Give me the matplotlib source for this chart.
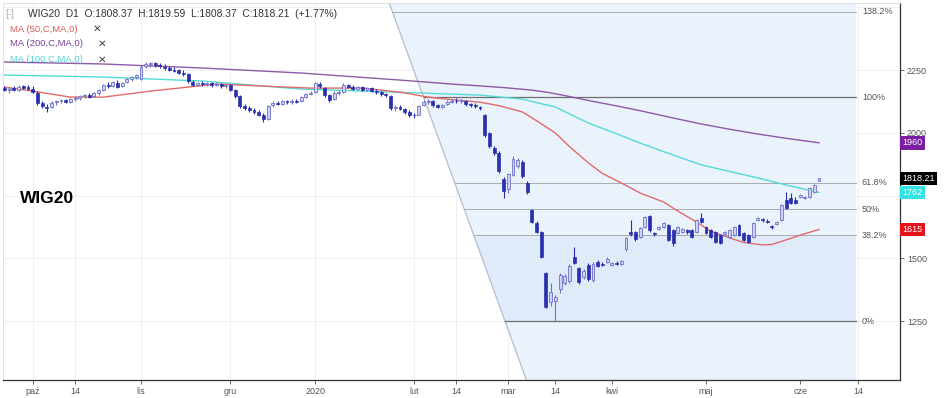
import numpy as np
import pandas as pd
import matplotlib
matplotlib.use('Agg')
import matplotlib.pyplot as plt
from matplotlib.patches import Polygon
import matplotlib.transforms as mtransforms

plt.rcParams['font.family'] = ['Liberation Sans', 'DejaVu Sans']

# ---------------- data ----------------
holidays = ['2019-11-01', '2019-11-11', '2019-12-24', '2019-12-25', '2019-12-26',
            '2019-12-31', '2020-01-01', '2020-01-06', '2020-04-10', '2020-04-13',
            '2020-05-01']
dates = [d for d in pd.bdate_range('2019-09-23', '2020-06-05')
         if d.strftime('%Y-%m-%d') not in holidays]

opens = [2180, 2170, 2178, 2172, 2186, 2182, 2176, 2160, 2118, 2104, 2102, 2122, 2126, 2130, 2124,
         2136, 2140, 2146, 2150, 2146, 2158, 2170, 2192, 2186, 2200, 2186, 2202, 2216, 2222, 2215,
         2266, 2272, 2276, 2270, 2264, 2258, 2252, 2250, 2240, 2236, 2204, 2192, 2200, 2194, 2198,
         2190, 2196, 2186, 2190, 2170, 2146, 2108, 2098, 2092, 2082, 2072, 2056, 2110, 2120, 2116,
         2126, 2122, 2128, 2126, 2144, 2154, 2164, 2196, 2180, 2150, 2134, 2160, 2164, 2190, 2184,
         2176, 2182, 2172, 2178, 2168, 2162, 2156, 2146, 2098, 2104, 2096, 2084, 2072, 2072, 2110,
         2124, 2126, 2110, 2104, 2114, 2124, 2128, 2126, 2128, 2114, 2112, 2104, 2072, 1998, 1940,
         1920, 1816, 1776, 1830, 1868, 1884, 1800, 1692, 1640, 1604, 1440, 1326, 1330, 1376, 1400,
         1408, 1504, 1462, 1424, 1474, 1412, 1486, 1476, 1486, 1474, 1480, 1478, 1536, 1605, 1605,
         1585, 1625, 1670, 1600, 1618, 1625, 1632, 1612, 1600, 1605, 1612, 1612, 1605, 1660, 1624,
         1612, 1605, 1593, 1598, 1585, 1593, 1632, 1601, 1593, 1585, 1652, 1656, 1650, 1628, 1636,
         1652, 1732, 1740, 1732, 1744, 1740, 1744, 1764, 1808.37]
highs = [2188, 2182, 2185, 2190, 2192, 2190, 2185, 2166, 2125, 2115, 2125, 2130, 2134, 2136, 2140,
         2145, 2150, 2156, 2160, 2162, 2176, 2195, 2202, 2206, 2210, 2204, 2220, 2228, 2236, 2268,
         2280, 2282, 2280, 2276, 2272, 2266, 2262, 2256, 2250, 2240, 2210, 2204, 2206, 2204, 2204,
         2202, 2200, 2196, 2196, 2174, 2150, 2115, 2106, 2100, 2090, 2078, 2112, 2126, 2128, 2130,
         2132, 2134, 2136, 2148, 2160, 2166, 2202, 2204, 2184, 2156, 2166, 2172, 2198, 2196, 2192,
         2188, 2186, 2182, 2184, 2176, 2168, 2160, 2150, 2110, 2110, 2100, 2090, 2080, 2112, 2130,
         2134, 2130, 2114, 2116, 2130, 2134, 2138, 2136, 2130, 2120, 2118, 2108, 2076, 2004, 1946,
         1926, 1822, 1840, 1906, 1900, 1890, 1806, 1698, 1648, 1608, 1444, 1400, 1352, 1440, 1436,
         1476, 1546, 1466, 1458, 1480, 1484, 1492, 1486, 1504, 1484, 1490, 1494, 1584, 1652, 1610,
         1624, 1670, 1674, 1606, 1630, 1645, 1636, 1616, 1628, 1620, 1618, 1616, 1656, 1682, 1628,
         1616, 1610, 1598, 1610, 1616, 1628, 1636, 1606, 1598, 1644, 1664, 1662, 1656, 1632, 1648,
         1716, 1764, 1760, 1745, 1756, 1750, 1784, 1794, 1819.59]
lows = [2165, 2160, 2168, 2168, 2175, 2172, 2160, 2112, 2098, 2082, 2098, 2112, 2118, 2120, 2120,
        2128, 2132, 2140, 2140, 2142, 2152, 2168, 2180, 2184, 2180, 2182, 2198, 2208, 2215, 2212,
        2260, 2264, 2262, 2260, 2252, 2246, 2242, 2236, 2228, 2200, 2186, 2186, 2188, 2186, 2184,
        2186, 2180, 2178, 2168, 2140, 2100, 2090, 2084, 2076, 2066, 2044, 2052, 2104, 2110, 2112,
        2114, 2116, 2120, 2124, 2140, 2150, 2160, 2180, 2144, 2122, 2130, 2152, 2160, 2178, 2170,
        2170, 2168, 2166, 2164, 2156, 2148, 2142, 2092, 2088, 2090, 2074, 2064, 2060, 2070, 2106,
        2116, 2104, 2098, 2100, 2112, 2118, 2120, 2120, 2108, 2104, 2100, 2092, 1984, 1940, 1910,
        1840, 1740, 1760, 1826, 1860, 1820, 1756, 1640, 1600, 1500, 1300, 1310, 1250, 1362, 1392,
        1400, 1476, 1398, 1418, 1410, 1406, 1464, 1468, 1482, 1468, 1472, 1474, 1530, 1588, 1570,
        1580, 1620, 1606, 1588, 1612, 1620, 1568, 1550, 1596, 1600, 1598, 1580, 1600, 1640, 1596,
        1580, 1560, 1556, 1594, 1580, 1588, 1588, 1568, 1560, 1580, 1648, 1646, 1640, 1618, 1632,
        1648, 1696, 1716, 1716, 1740, 1736, 1740, 1760, 1808.37]
closes = [2170, 2175, 2172, 2184, 2180, 2176, 2164, 2118, 2105, 2100, 2120, 2125, 2130, 2124, 2136,
          2140, 2146, 2150, 2144, 2158, 2172, 2190, 2186, 2202, 2184, 2200, 2215, 2222, 2230, 2262,
          2272, 2276, 2268, 2265, 2258, 2252, 2248, 2240, 2236, 2206, 2192, 2200, 2194, 2198, 2190,
          2196, 2186, 2190, 2172, 2146, 2108, 2098, 2090, 2082, 2072, 2056, 2108, 2120, 2116, 2126,
          2122, 2128, 2124, 2144, 2156, 2160, 2198, 2186, 2150, 2132, 2158, 2164, 2192, 2184, 2176,
          2182, 2172, 2178, 2168, 2162, 2154, 2150, 2098, 2104, 2096, 2082, 2072, 2070, 2108, 2124,
          2128, 2110, 2104, 2112, 2124, 2128, 2126, 2130, 2114, 2110, 2106, 2098, 1990, 1946, 1920,
          1846, 1768, 1834, 1896, 1890, 1826, 1764, 1646, 1606, 1506, 1306, 1364, 1346, 1432, 1428,
          1468, 1482, 1404, 1450, 1416, 1478, 1470, 1474, 1498, 1480, 1476, 1488, 1580, 1595, 1575,
          1620, 1665, 1612, 1595, 1625, 1640, 1573, 1561, 1624, 1615, 1605, 1585, 1652, 1645, 1601,
          1585, 1565, 1561, 1605, 1612, 1624, 1593, 1573, 1565, 1640, 1660, 1652, 1645, 1624, 1644,
          1712, 1700, 1720, 1720, 1752, 1745, 1780, 1790, 1818.21]

# moving averages (trading-day index, value)
ma50_idx = [0, 6, 14, 21, 31, 45, 55, 65, 76, 84, 90, 96, 101, 105, 110, 113, 117, 120, 124, 127,
            131, 135, 140, 143, 147, 150, 154, 157, 161, 163, 166, 169, 173]
ma50_val = [2182, 2166, 2142, 2142, 2166, 2194, 2186, 2178, 2178, 2162, 2142, 2130, 2122, 2108, 2083,
            2048, 1999, 1945, 1880, 1838, 1800, 1760, 1724, 1688, 1644, 1608, 1581, 1563, 1553, 1555,
            1573, 1592, 1615]
ma100_idx = [0, 21, 42, 63, 89, 95, 101, 105, 110, 113, 117, 120, 124, 130, 135, 141, 148, 154, 160,
             166, 173]
ma100_val = [2230, 2222, 2206, 2174, 2158, 2154, 2150, 2143, 2134, 2120, 2103, 2075, 2039, 1996, 1959,
             1918, 1872, 1846, 1820, 1792, 1762]
ma200_idx = [0, 21, 42, 63, 84, 95, 100, 106, 112, 115, 118, 125, 130, 135, 141, 148, 154, 160, 166, 173]
ma200_val = [2282, 2274, 2258, 2238, 2210, 2194, 2188, 2180, 2170, 2162, 2152, 2125, 2107, 2088, 2063,
             2035, 2014, 1995, 1978, 1960]

# Fibonacci retracement
fib_high = 2142
fib_low = 1250
fib_levels = [0.0, 0.382, 0.5, 0.618, 1.0, 1.382]
fib_labels = ['0%', '38.2%', '50%', '61.8%', '100%', '138.2%']
fib_x_high = 89.0    # trend line crosses 100% level
fib_x_low = 106.3    # trend line crosses 0% level
fib_x_start = 81.8
fib_x_end = 180.9

tick_dates = ['2019-10-01', '2019-10-14', '2019-11-04', '2019-12-02', '2020-01-02', '2020-02-03',
              '2020-02-14', '2020-03-02', '2020-03-16', '2020-04-01', '2020-05-04', '2020-06-01']
tick_labels = ['paź', '14', 'lis', 'gru', '2020', 'lut', '14', 'mar', '14', 'kwi', 'maj', 'cze']
future_tick_pos = 181.3
future_tick_label = '14'

yticks = [1250, 1500, 2000, 2250]
ygrid = [1250, 1500, 1750, 2000, 2250, 2500]

# ---------------- figure ----------------
fig = plt.figure(figsize=(9.48, 3.98), dpi=100)
ax = fig.add_axes([0.003, 1 - 380 / 398, 900 / 948 - 0.003, 377 / 398])
ymin, ymax = 1015, 2517
xmin, xmax = -0.35, 190.2
ax.set_xlim(xmin, xmax)
ax.set_ylim(ymin, ymax)

# grid
date_str = [d.strftime('%Y-%m-%d') for d in dates]
tick_pos = [date_str.index(t) for t in tick_dates] + [future_tick_pos]
for p in tick_pos:
    ax.axvline(p, color='#ececec', lw=0.6, zorder=0)
for g in ygrid:
    ax.axhline(g, color='#ececec', lw=0.6, zorder=0)

# Fibonacci region
slope = (fib_x_low - fib_x_high) / (fib_low - fib_high)  # dx per price


def diag_x(p):
    return fib_x_high + (p - fib_high) * slope


poly = Polygon([(diag_x(ymax), ymax), (fib_x_end, ymax), (fib_x_end, ymin), (diag_x(ymin), ymin)],
               closed=True, facecolor='#eaf2fc', edgecolor='none', zorder=0.5)
ax.add_patch(poly)
p382 = fib_low + 0.382 * (fib_high - fib_low)
band = Polygon([(diag_x(p382), p382), (fib_x_end, p382), (fib_x_end, fib_low), (diag_x(fib_low), fib_low)],
               closed=True, facecolor='#e0ebf9', edgecolor='none', zorder=0.6)
ax.add_patch(band)
ax.plot([diag_x(ymax), diag_x(ymin)], [ymax, ymin], color='#b4bfd0', lw=0.9, zorder=1)

for lev, lab in zip(fib_levels, fib_labels):
    p = fib_low + lev * (fib_high - fib_low)
    strong = lev in (0.0, 1.0)
    ax.plot([diag_x(p), fib_x_end], [p, p],
            color='#6e6e6e' if strong else '#ababab', lw=0.9 if strong else 0.7, zorder=1.2)
    ax.text(fib_x_end + 1.2, p, lab, fontsize=6.5, color='#555555', va='center', ha='left', zorder=5)

# moving averages
ax.plot(ma200_idx, ma200_val, color='#8c5aa6', lw=1.0, zorder=2)
ax.plot(ma100_idx, ma100_val, color='#52dbd6', lw=1.0, zorder=2)
ax.plot(ma50_idx, ma50_val, color='#e26a6a', lw=1.0, zorder=2)

# candlesticks
x = np.arange(len(dates))
o = np.array(opens, dtype=float)
h = np.array(highs, dtype=float)
l = np.array(lows, dtype=float)
c = np.array(closes, dtype=float)
up = c >= o
dn = ~up
ax.vlines(x[dn], l[dn], h[dn], color='#2a2fae', lw=0.8, zorder=3)
ax.vlines(x[up], l[up], h[up], color='#6f73c8', lw=0.8, zorder=3)
ax.bar(x[dn], (c - o)[dn], bottom=o[dn], width=0.62, color='#2a2fae', edgecolor='#2a2fae', lw=0.5, zorder=4)
ax.bar(x[up], np.maximum((c - o)[up], 1.5), bottom=o[up], width=0.62, color='#cfd1f3', edgecolor='#6f73c8',
       lw=0.6, zorder=4)

# axes styling
for s in ['top', 'left']:
    ax.spines[s].set_color('#dddddd')
    ax.spines[s].set_linewidth(0.6)
for s in ['right', 'bottom']:
    ax.spines[s].set_color('#333333')
    ax.spines[s].set_linewidth(0.9)
ax.yaxis.tick_right()
ax.set_yticks(yticks)
ax.set_yticklabels([str(v) for v in yticks])
ax.set_xticks(tick_pos)
ax.set_xticklabels(tick_labels + [future_tick_label])
ax.tick_params(axis='both', labelsize=6.5, colors='#555555', length=3, width=0.6, pad=2)

# value boxes on right axis
trans = mtransforms.blended_transform_factory(ax.transAxes, ax.transData)
boxes = [(ma200_val[-1], '1960', '#7b1fa2', 'white'),
         (closes[-1], '1818.21', '#000000', 'white'),
         (ma100_val[-1], '1762', '#33e3e3', 'white'),
         (ma50_val[-1], '1615', '#e3141c', 'white')]
for val, txt, bg, fg in boxes:
    ax.text(1.003, val, txt, transform=trans, fontsize=6.5, color=fg, va='center', ha='left',
            bbox=dict(boxstyle='square,pad=0.25', facecolor=bg, edgecolor='none'), zorder=6, clip_on=False)

# header / legend texts
fig.text(5 / 948, 1 - 14 / 398, '[-]', fontsize=7, color='#aaaaaa', va='center', ha='left')
fig.text(28 / 948, 1 - 14 / 398, 'WIG20  D1  O:1808.37  H:1819.59  L:1808.37  C:1818.21  (+1.77%)',
         fontsize=7.4, color='#333333', va='center', ha='left')
legend_items = [('MA (50,C,MA,0)', '#e05a5a', 29, 97), ('MA (200,C,MA,0)', '#7a3f9a', 44, 102),
                ('MA (100,C,MA,0)', '#52d6d6', 60, 102)]
for txt, col, yy, xx in legend_items:
    fig.text(10 / 948, 1 - yy / 398, txt, fontsize=6.8, color=col, va='center', ha='left')
    fig.text(xx / 948, 1 - yy / 398, '✕', fontsize=7.5, color='#444444', va='center', ha='center',
             family=['DejaVu Sans'], fontweight='bold')

fig.text(20 / 948, 1 - 198 / 398, 'WIG20', fontsize=12.5, fontweight='bold', color='#000000',
         va='center', ha='left')

fig.savefig('out.png', dpi=100)
